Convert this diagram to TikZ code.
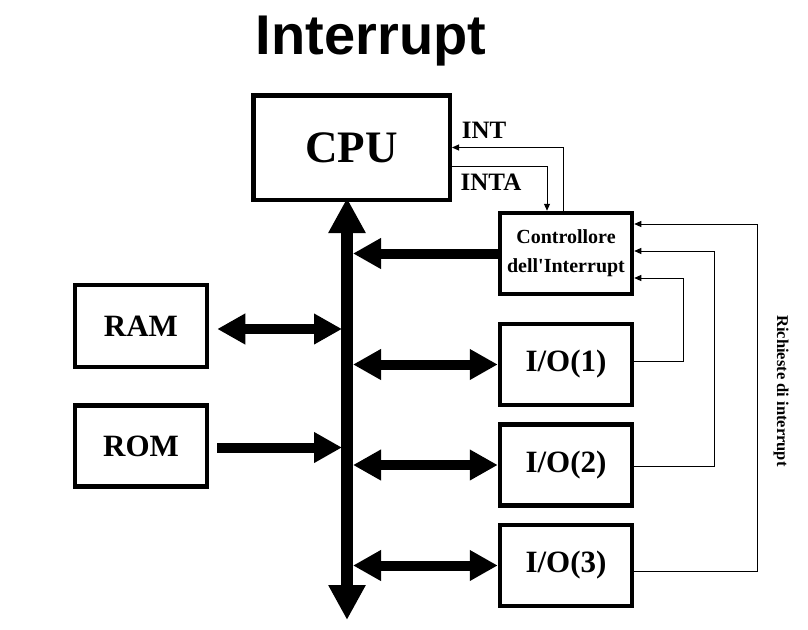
\documentclass[tikz,border=0pt]{standalone}
\usepackage{fontspec}
\setmainfont{Liberation Serif}
\newfontfamily\titlefont{Liberation Sans}
\usetikzlibrary{positioning,arrows.meta}

\begin{document}
\begin{tikzpicture}[
  x=1pt, y=-1pt,
  unit/.style={draw, line width=4.5pt, fill=white, inner sep=0pt,
    minimum width=132pt, minimum height=81pt,
    font=\bfseries\fontsize{31}{36}\selectfont},
  lab/.style={font=\bfseries\fontsize{25}{30}\selectfont},
  bigtip/.tip={Triangle[length=35pt,width=35pt]},
  midtip/.tip={Triangle[length=28pt,width=29pt]},
  bus/.style={line width=12pt, bigtip-bigtip},
  link/.style={line width=10pt},
  sig/.style={line width=1pt, -{Triangle[length=7pt,width=6pt]}}]
  \useasboundingbox (0,0) rectangle (808,629);

  \node[anchor=base, font=\titlefont\bfseries\fontsize{56}{60}\selectfont] (title) at (371,54) {Interrupt};

  \node[unit, minimum width=196.5pt, minimum height=104.5pt,
    font=\bfseries\fontsize{45}{54}\selectfont] (cpu) at (351.5,147.5) {CPU};
  \node[unit, align=center, font=\bfseries\fontsize{20}{29}\selectfont] (ctrl) at (566,253.5)
    {Controllore\\dell\textquotesingle Interrupt};
  \node[unit, minimum height=82pt] (ram) at (141,326) {RAM};
  \node[unit, below=34pt of ram] (rom) {ROM};
  \node[unit] (io1) at (566,364.5) {I/O(1)};
  \node[unit, below=15pt of io1] (io2) {I/O(2)};
  \node[unit, below=15pt of io2] (io3) {I/O(3)};

  \coordinate (bustop) at (347,198);
  \coordinate (busbot) at (347,620);
  \draw[bus] (bustop) -- (busbot);

  \draw[link, midtip-midtip, shorten <=8pt, shorten >=5pt] ([yshift=-3pt]ram.east) -- ([yshift=-3pt]ram.east -| bustop);
  \draw[link, -midtip, shorten <=8pt, shorten >=5pt] ([yshift=-1.5pt]rom.east) -- ([yshift=-1.5pt]rom.east -| bustop);
  \draw[link, -midtip, shorten >=6pt] (ctrl.west) -- (ctrl.west -| bustop);
  \draw[link, midtip-midtip, shorten <=6pt] (io1.west -| bustop) -- (io1.west);
  \draw[link, midtip-midtip, shorten <=6pt] (io2.west -| bustop) -- (io2.west);
  \draw[link, midtip-midtip, shorten <=6pt] (io3.west -| bustop) -- (io3.west);

  \draw[sig] ([xshift=-3pt]ctrl.north) |- (cpu.east);
  \draw[sig] ([yshift=-19pt]cpu.east) -| ([xshift=-19pt]ctrl.north);
  \node[lab, anchor=base] (int) at (484,138) {INT};
  \node[lab, anchor=base] (inta) at (491,190) {INTA};

  \draw[sig] ([yshift=3.5pt]io1.east) -- ++(49,0) |- ([yshift=-24.5pt]ctrl.east);
  \draw[sig] ([yshift=-1.5pt]io2.east) -- ++(80,0) |- ([yshift=2.5pt]ctrl.east);
  \draw[sig] ([yshift=-5.5pt]io3.east) -- ++(123,0) |- ([yshift=29.5pt]ctrl.east);
  \node[rotate=-90, font=\bfseries\fontsize{16.5}{20}\selectfont] (req) at (781,391) {Richieste di interrupt};
\end{tikzpicture}
\end{document}
